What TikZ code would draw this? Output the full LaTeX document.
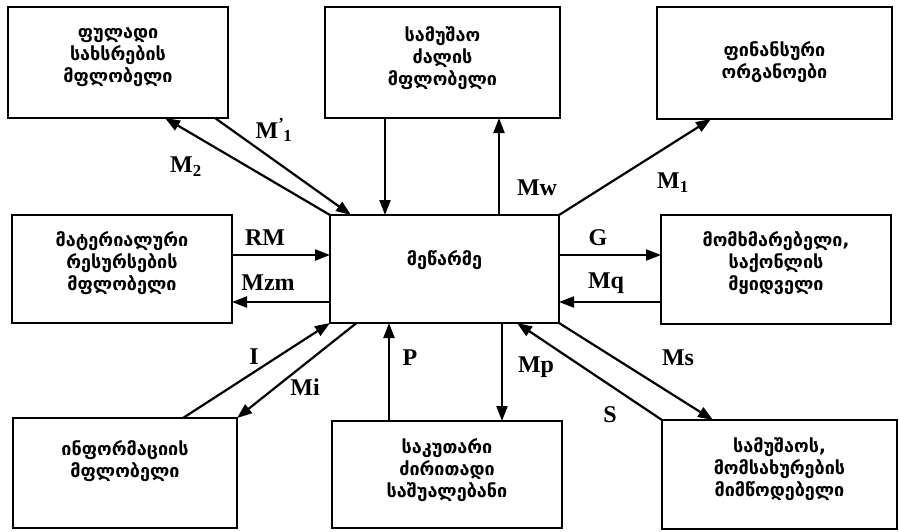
\documentclass[tikz,border=0pt]{standalone}
\usepackage{fontspec}
\setmainfont{Liberation Serif}
\newfontfamily\geo{DejaVu Sans}
\usetikzlibrary{arrows.meta,calc}
\begin{document}
\begin{tikzpicture}[x=1pt,y=-1pt,
  box/.style={draw,line width=2.6pt,rectangle,inner sep=0pt,outer sep=0pt},
  txt/.style={font=\geo\bfseries\fontsize{18}{22}\selectfont,align=center,inner sep=0pt},
  lbl/.style={font=\bfseries\fontsize{24}{24}\selectfont,inner sep=0pt},
  conn/.style={line width=2.2pt},
  arr/.style={conn,-{Triangle[length=15pt,width=11pt]}}]
\useasboundingbox (0,0) rectangle (899,531);
% boxes
\node[box,minimum width=220pt,minimum height=111pt] (tl) at (118,62.5) {};
\node[box,minimum width=235pt,minimum height=111pt] (tm) at (442.5,62.5) {};
\node[box,minimum width=235pt,minimum height=112pt] (tr) at (774.5,63) {};
\node[box,minimum width=220pt,minimum height=108pt] (ml) at (122,269) {};
\node[box,minimum width=229pt,minimum height=108pt] (c) at (444.5,269) {};
\node[box,minimum width=230pt,minimum height=109pt] (mr) at (776,269.5) {};
\node[box,minimum width=224pt,minimum height=110pt] (bl) at (125,473) {};
\node[box,minimum width=230pt,minimum height=107pt] (bm) at (447,474.5) {};
\node[box,minimum width=235pt,minimum height=109pt] (br) at (779.5,474.5) {};
% texts
\node[txt] (ttl) at (118,57) {ფულადი\\სახსრების\\მფლობელი};
\node[txt] (ttm) at (442.5,58) {სამუშაო\\ძალის\\მფლობელი};
\node[txt] (ttr) at (774.5,62) {ფინანსური\\ორგანოები};
\node[txt] (tml) at (122,263) {მატერიალური\\რესურსების\\მფლობელი};
\node[txt] (tc) at (444.5,260) {მეწარმე};
\node[txt] (tmr) at (776,263) {მომხმარებელი,\\საქონლის\\მყიდველი};
\node[txt] (tbl) at (125,461) {ინფორმაციის\\მფლობელი};
\node[txt] (tbm) at (447,470) {საკუთარი\\ძირითადი\\საშუალებანი};
\node[txt] (tbr) at (779.5,469) {სამუშაოს,\\მომსახურების\\მიმწოდებელი};
% connectors
\coordinate (a1) at ($(tl.south)+(47,0)$);
\draw[arr] (c.north west) -- (a1);
\coordinate (b1) at ($(tl.south)+(97,0)$);
\coordinate (b2) at ($(c.north west)+(21,0)$);
\draw[arr] (b1) -- (b2);
\coordinate (d1) at ($(tm.south)+(-57.5,0)$);
\draw[arr] (d1) -- (d1 |- c.north);
\coordinate (u1) at ($(c.north)+(54.5,0)$);
\draw[arr] (u1) -- (u1 |- tm.south);
\coordinate (e1) at ($(tr.south)+(-63.5,0)$);
\draw[arr] (c.north east) -- (e1);
\coordinate (rm) at ($(c.west)+(0,-14)$);
\draw[arr] (rm -| ml.east) -- (rm);
\coordinate (mz) at ($(c.west)+(0,33)$);
\draw[arr] (mz) -- (mz -| ml.east);
\coordinate (g) at ($(c.east)+(0,-14)$);
\draw[arr] (g) -- (g -| mr.west);
\coordinate (mq) at ($(c.east)+(0,33)$);
\draw[arr] (mq -| mr.west) -- (mq);
\coordinate (i1) at ($(bl.north)+(58,0)$);
\draw[arr] (i1) -- (c.south west);
\coordinate (mi) at ($(c.south)+(-88,0)$);
\draw[arr] (mi) -- (bl.north east);
\coordinate (p) at ($(bm.north)+(-58,0)$);
\draw[arr] (p) -- (p |- c.south);
\coordinate (mp) at ($(c.south)+(57.5,0)$);
\draw[arr] (mp) -- (mp |- bm.north);
\coordinate (s1) at ($(c.south)+(72.5,0)$);
\draw[arr] (br.north west) -- (s1);
\coordinate (ms) at ($(br.north)+(-66.5,0)$);
\draw[arr] (c.south east) -- (ms);
% labels
\node[lbl] (l1) at (186,167) {M\textsubscript{2}};
\node[lbl] (l2) at (274,130) {M\textsuperscript{'}\kern-1pt\textsubscript{1}};
\node[lbl] (l3) at (537,188) {Mw};
\node[lbl] (l4) at (673,183) {M\textsubscript{1}};
\node[lbl] (l5) at (265,238) {RM};
\node[lbl] (l6) at (268,283) {Mzm};
\node[lbl] (l7) at (598,238) {G};
\node[lbl] (l8) at (606,283) {Mq};
\node[lbl] (l9) at (254,357) {I};
\node[lbl] (l10) at (305,387) {Mi};
\node[lbl] (l11) at (410,358) {P};
\node[lbl] (l12) at (536,367) {Mp};
\node[lbl] (l13) at (610,415) {S};
\node[lbl] (l14) at (678,358) {Ms};
\end{tikzpicture}
\end{document}
